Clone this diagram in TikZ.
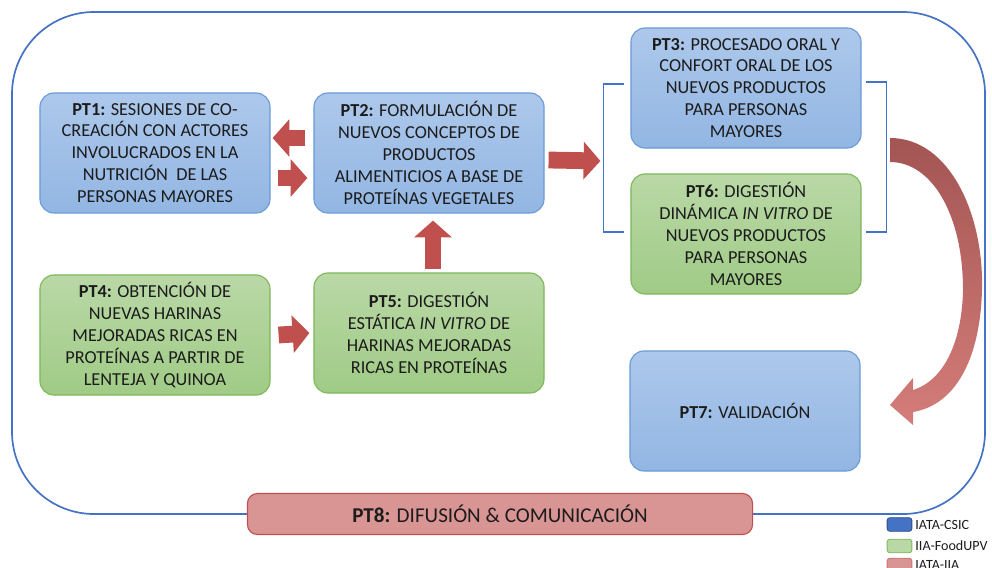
\documentclass[tikz,border=0pt]{standalone}
\usepackage{fontspec}
\setmainfont{Carlito}
\usetikzlibrary{arrows.meta, calc}

\definecolor{frameblue}{HTML}{4472C4}
\definecolor{csicline}{HTML}{6A9BD6}
\definecolor{csictop}{HTML}{ADC8EB}
\definecolor{csicbot}{HTML}{92B6E3}
\definecolor{upvline}{HTML}{7DB85A}
\definecolor{upvtop}{HTML}{B9D8A6}
\definecolor{upvbot}{HTML}{A0CB86}
\definecolor{iiafill}{HTML}{D99594}
\definecolor{iialine}{HTML}{C0504D}
\definecolor{arrowred}{HTML}{C0504D}
\definecolor{curvetop}{HTML}{A35553}
\definecolor{curvebot}{HTML}{D47D7A}
\definecolor{textgray}{HTML}{1C1C1C}

\tikzset{
  ptbox/.style={draw, line width=0.8pt, rounded corners=0.35cm,
    minimum width=5.75cm, minimum height=3cm, align=center,
    text=textgray, font=\fontsize{13}{15.6}\selectfont, inner sep=2pt},
  csic/.style={ptbox, draw=csicline, top color=csictop, bottom color=csicbot},
  upv/.style={ptbox, draw=upvline, top color=upvtop, bottom color=upvbot},
  bigarrow/.style={draw=arrowred, line width=0.42cm,
    -{Triangle[width=0.92cm, length=0.42cm]}},
  bracket/.style={draw=frameblue, line width=1pt},
  key/.style={draw, line width=0.6pt, rounded corners=2pt,
    minimum width=0.62cm, minimum height=0.34cm, inner sep=0pt},
  keytext/.style={right, inner sep=1pt, text=textgray,
    font=\fontsize{10}{11}\selectfont},
}

\begin{document}
\begin{tikzpicture}[x=0.025cm, y=-0.025cm]
    \useasboundingbox (0,0) rectangle (992,567);

    % outer frame
    \draw[frameblue, line width=1.2pt, rounded corners=2.05cm] (12,12) rectangle (985,514);

    % work packages
    \node[csic] (pt1) at (155,153) {\textbf{PT1:} SESIONES DE CO-\\CREACIÓN CON ACTORES\\INVOLUCRADOS EN LA\\NUTRICIÓN\ \ DE LAS\\PERSONAS MAYORES};
    \node[csic] (pt2) at (429,153) {\textbf{PT2:} FORMULACIÓN DE\\NUEVOS CONCEPTOS DE\\PRODUCTOS\\ALIMENTICIOS A BASE DE\\PROTEÍNAS VEGETALES};
    \node[csic] (pt3) at (746,88) {\textbf{PT3:} PROCESADO ORAL Y\\CONFORT ORAL DE LOS\\NUEVOS PRODUCTOS\\PARA PERSONAS\\MAYORES};
    \node[upv] (pt6) at (746,234) {\textbf{PT6:} DIGESTIÓN\\DINÁMICA \textit{IN VITRO} DE\\NUEVOS PRODUCTOS\\PARA PERSONAS\\MAYORES};
    \node[upv] (pt4) at (155,335) {\textbf{PT4:} OBTENCIÓN DE\\NUEVAS HARINAS\\MEJORADAS RICAS EN\\PROTEÍNAS A PARTIR DE\\LENTEJA Y QUINOA};
    \node[upv] (pt5) at (429,333) {\textbf{PT5:} DIGESTIÓN\\ESTÁTICA \textit{IN VITRO} DE\\HARINAS MEJORADAS\\RICAS EN PROTEÍNAS};
    \node[csic] (pt7) at (745,411) {\textbf{PT7:} VALIDACIÓN};
    \node[ptbox, draw=iialine, fill=iiafill, rounded corners=0.25cm,
      minimum width=12.625cm, minimum height=1.025cm,
      font=\fontsize{15}{17}\selectfont] (pt8) at (500,514) {\textbf{PT8:} DIFUSIÓN \& COMUNICACIÓN};

    % brackets round PT3 and PT6
    \coordinate (brkL) at ($(pt3.west)!0.5!(pt6.west)+(-27,0)$);
    \draw[bracket] ($(pt3.west)+(-6,-4)$) -| ($(pt6.west)+(-27,-2)$) -- ($(pt6.west)+(-6,-2)$);
    \draw[bracket] ($(pt3.east)+(4,-6)$) -| ($(pt6.east)+(25,-2)$) -- ($(pt6.east)+(4,-2)$);

    % block arrows
    \draw[bigarrow] ($(pt2.west)+(-8,-15)$) -- ($(pt1.east)+(2,-15)$);
    \draw[bigarrow] ($(pt1.east)+(7,25)$) -- ($(pt2.west)+(-6,25)$);
    \draw[bigarrow] ($(pt2.east)+(4,7)$) -- ($(brkL)+(-3,0)$);
    \draw[bigarrow] ($(pt5.north)+(4,-3)$) -- ($(pt2.south)+(4,7)$);
    \draw[bigarrow] ($(pt4.east)+(8,0)$) -- ($(pt5.west)+(-4,0)$);

    % curved arrow to PT7
    \shade[top color=curvetop, bottom color=curvebot]
      (890,138) .. controls (950,138) and (984,215) .. (982,290)
      .. controls (980,360) and (955,405) .. (913,412)
      -- (913,425) -- (890,405) -- (913,378) -- (913,390)
      .. controls (945,380) and (962,340) .. (963,290)
      .. controls (963,215) and (932,162) .. (890,162) -- cycle;

    % legend
    \node[key, draw=frameblue!70!black, fill=frameblue] (kcsic) at (899.5,524.5) {};
    \node[key, draw=upvline, fill=upvtop] (kupv) at (899.5,546) {};
    \node[key, draw=iialine!80, fill=iiafill] (kiia) at (899.5,565) {};
    \node[keytext] at ([xshift=1pt]kcsic.east) {IATA-CSIC};
    \node[keytext] at ([xshift=1pt]kupv.east) {IIA-FoodUPV};
    \node[keytext] at ([xshift=1pt]kiia.east) {IATA-IIA};
\end{tikzpicture}
\end{document}
